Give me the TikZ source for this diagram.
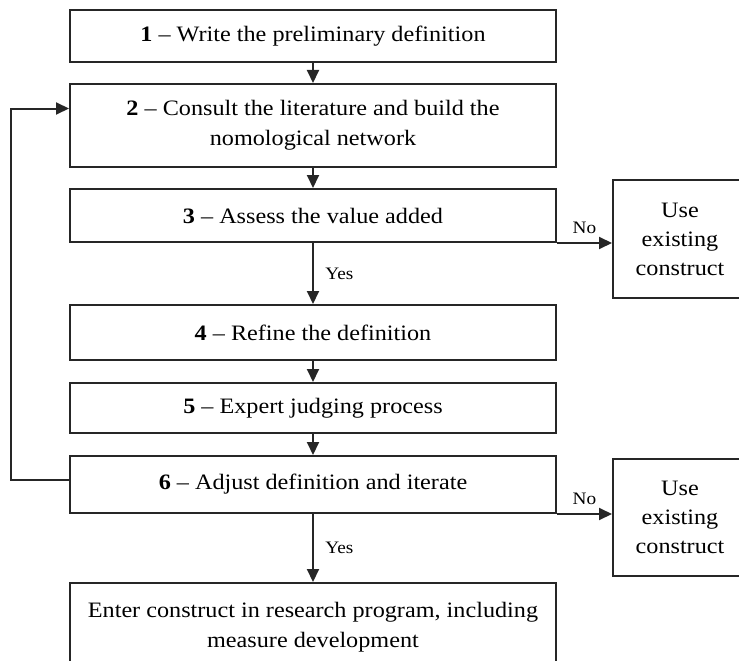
\documentclass[tikz,border=0pt]{standalone}
\usepackage{fontspec}
\setmainfont{Liberation Serif}[FakeStretch=1.1]
\usetikzlibrary{positioning, arrows.meta, calc}

\begin{document}
\begin{tikzpicture}[
	node distance=20pt, % vertical gap between the steps
	line width=2pt,
	>={Triangle[length=13pt, width=12pt]},
	% Style for the numbered steps
	stepbox/.style={
		rectangle,
		draw=black!85,
		minimum width=486pt,
		align=center,
		font=\fontsize{22}{30}\selectfont
	},
	% Style for the side exits
	usebox/.style={
		rectangle,
		draw=black!85,
		minimum width=134pt,
		minimum height=118pt,
		align=center,
		font=\fontsize{22}{29}\selectfont
	},
	% Style for the connectors
	flow/.style={
		->,
		draw=black!85
	},
	% Style for the Yes / No labels
	answer/.style={
		font=\fontsize{17.5}{20}\selectfont
	}
	]
	
	\useasboundingbox (0pt,0pt) rectangle (739pt,-661pt);
	
	% --- NODES (STEPS) ---
	\node[stepbox, minimum height=52pt] (def) at (313pt,-36pt) {\textbf{1} -- Write the preliminary definition};
	\node[stepbox, minimum height=83pt, below=of def] (lit) {\textbf{2} -- Consult the literature and build the\\nomological network};
	\node[stepbox, minimum height=53pt, below=of lit] (value) {\textbf{3} -- Assess the value added};
	\node[stepbox, minimum height=55pt, below=61pt of value] (refine) {\textbf{4} -- Refine the definition};
	\node[stepbox, minimum height=50pt, below=21pt of refine] (expert) {\textbf{5} -- Expert judging process};
	\node[stepbox, minimum height=57pt, below=21pt of expert] (adjust) {\textbf{6} -- Adjust definition and iterate};
	\node[stepbox, minimum height=88pt, below=68pt of adjust] (enter) {Enter construct in research program, including\\measure development};
	
	% Exits to an existing construct
	\node[usebox, right=55pt of value.south east, yshift=4pt] (useA) {Use\\existing\\construct};
	\node[usebox, minimum height=117pt, right=55pt of adjust.south east, yshift=-3.5pt] (useB) {Use\\existing\\construct};
	
	% Corner of the iteration loop
	\coordinate (loop) at ($(adjust.west)+(-58pt,5pt)$);
	
	% --- EDGES ---
	\draw[flow] (def) -- (lit);
	\draw[flow] (lit) -- (value);
	\draw[flow] (value) -- node[answer, midway, right=8pt] {Yes} (refine);
	\draw[flow] (refine) -- (expert);
	\draw[flow] (expert) -- (adjust);
	\draw[flow] (adjust) -- node[answer, midway, right=8pt] {Yes} (enter);
	
	% No branches
	\draw[flow] (value.south east) -- node[answer, midway, above=5pt] {No} (value.south east -| useA.west);
	\draw[flow] (adjust.south east) -- node[answer, midway, above=5pt] {No} (adjust.south east -| useB.west);
	
	% Iterate back to the literature
	\draw[flow] ([yshift=5pt]adjust.west) -- (loop) |- ([yshift=17pt]lit.west);
	
\end{tikzpicture}
\end{document}
